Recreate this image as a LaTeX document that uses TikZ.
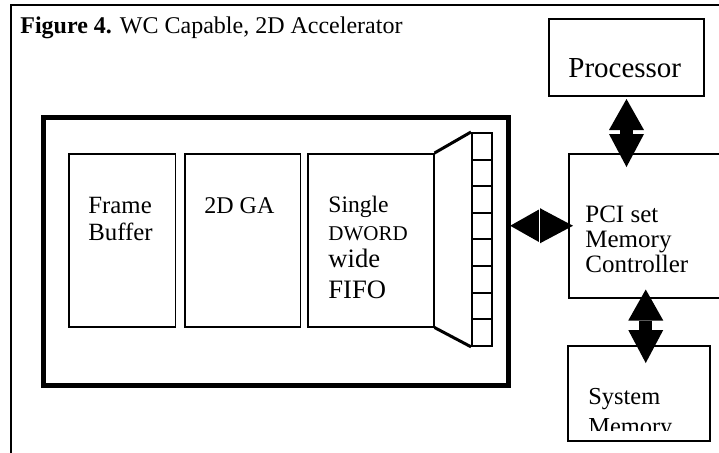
\documentclass[tikz,border=0pt]{standalone}
\usepackage{fontspec}
\setmainfont{Liberation Serif}
\usetikzlibrary{arrows.meta,calc}

\begin{document}
\begin{tikzpicture}[x=0.5pt, y=-0.5pt, line join=miter,
  blk/.style={draw, line width=0.75pt, anchor=north west, inner sep=0pt},
  cell/.style={draw, line width=1pt, minimum width=10pt, minimum height=13.3pt, inner sep=0pt},
  lbl/.style={anchor=base west, inner sep=0pt, align=left},
  dbl/.style={line width=6.5pt,
    {Triangle[length=15.5pt, width=17.5pt, line width=0pt]}-{Triangle[length=16.5pt, width=17.5pt, line width=0pt]}}]
\useasboundingbox (0,0) rectangle (719,452);
% frame
\draw[line width=1pt] (730,5) -- (11,5) -- (11,470);
\node[lbl, font=\fontsize{12}{13}\selectfont] (title) at (20,33) {\textbf{Figure 4.} WC Capable, 2D Accelerator};
% accelerator
\node[blk, line width=2.6pt, minimum width=232.75pt, minimum height=134pt] (acc) at (40.5,115) {};
\node[blk, minimum width=53.25pt, minimum height=86.5pt] (fb) at (68,153) {};
\node[blk, minimum width=57.75pt, minimum height=86.5pt] (ga) at (184,153) {};
\node[blk, minimum width=63pt, minimum height=86.5pt] (fifo) at (307,153) {};
\node[lbl, font=\fontsize{12.4}{13.5}\selectfont] (fbtxt) at (88,240) {Frame\\Buffer};
\node[lbl, font=\fontsize{12}{13}\selectfont] (gatxt) at (204,213) {2D GA};
\node[lbl, font=\fontsize{11.8}{13}\selectfont] (fifo1) at (328,212) {Single};
\node[lbl, font=\fontsize{10.5}{12}\selectfont] (fifo2) at (328,240) {DWORD};
\node[lbl, font=\fontsize{13.3}{14}\selectfont] (fifo3) at (328,267) {wide};
\node[lbl, font=\fontsize{13.3}{14}\selectfont] (fifo4) at (328,298) {FIFO};
% fifo cells
\foreach \k in {0,...,7}
  \node[cell] (c\k) at (482,146.3+26.6*\k) {};
\draw[line width=1.5pt] (fifo.north east) -- (c0.north west);
\draw[line width=1.5pt] (fifo.south east) -- (c7.south west);
% system side
\node[blk, line width=1pt, minimum width=77.5pt, minimum height=38.5pt] (proc) at (548,18) {};
\node[lbl, font=\fontsize{14.5}{15}\selectfont] (proctxt) at (568,77) {Processor};
\node[blk, minimum width=86pt, minimum height=72pt] (pci) at (568,153) {};
\node[lbl, font=\fontsize{12.5}{12.5}\selectfont] (pcitxt) at (585,272) {PCI set\\Memory\\Controller};
\node[blk, minimum width=71pt, minimum height=47.5pt] (mem) at (567,345) {};
\begin{scope}
  \clip (567,345) rectangle (709,430);
  \node[lbl, font=\fontsize{12.2}{15}\selectfont] (memtxt) at (588,434) {System\\Memory};
\end{scope}
% links
\draw[dbl, shorten <=1pt, shorten >=-7pt] (proc.south) -- (proc.south |- pci.north);
\path (mem.north) ++(7,0) coordinate (m1);
\draw[dbl, shorten <=-4.5pt, shorten >=-9pt] (m1 |- pci.south) -- (m1);
\draw[dbl, shorten <=-0.5pt, shorten >=-2.5pt] (acc.east |- pci.west) -- coordinate[pos=0.5] (hm) (pci.west);
\draw[white, line width=0.6pt] ([yshift=-9pt]hm) -- ([yshift=9pt]hm);
\end{tikzpicture}
\end{document}
